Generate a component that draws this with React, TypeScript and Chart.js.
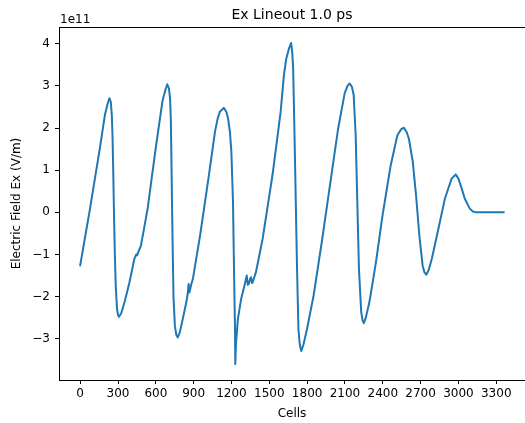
import React, { useEffect, useRef } from "react";
import { Chart, registerables } from "chart.js";

Chart.register(...registerables);

// Ex lineout sampled along the cell index (field in units of 1e11 V/m)
const cells = [
  0, 78, 156, 196, 215, 232, 243, 251, 257, 262, 268, 275, 282, 292, 300, 308, 325, 352, 391, 430, 445, 452, 461,
  482, 535, 599, 652, 675, 691, 704, 713, 719, 723, 727, 733, 740, 751, 762, 774, 790, 808, 842, 852, 860, 866, 873,
  880, 886, 894, 951, 1017, 1069, 1090, 1108, 1139, 1160, 1173, 1188, 1199, 1212, 1220, 1228, 1230, 1236, 1251,
  1277, 1303, 1312, 1321, 1329, 1337, 1346, 1355, 1362, 1368, 1394, 1447, 1525, 1564, 1590, 1616, 1634, 1655, 1673,
  1682, 1689, 1700, 1710, 1720, 1731, 1742, 1754, 1770, 1799, 1851, 1916, 1981, 2046, 2098, 2120, 2137, 2155, 2169,
  2185, 2198, 2211, 2229, 2240, 2250, 2265, 2294, 2346, 2398, 2463, 2516, 2545, 2567, 2590, 2607, 2638, 2664, 2690,
  2716, 2730, 2745, 2765, 2789, 2841, 2893, 2946, 2979, 3000, 3018, 3050, 3089, 3115, 3141, 3360,
];

const exE11 = [
  -1.26, 0.09, 1.52, 2.31, 2.55, 2.71, 2.62, 2.3, 1.75, 1.0, 0.0, -1.0, -1.74, -2.29, -2.43, -2.48, -2.4, -2.13,
  -1.66, -1.1, -1.0, -1.02, -0.94, -0.79, 0.09, 1.52, 2.63, 2.9, 3.04, 2.94, 2.7, 2.2, 1.4, 0.5, -0.7, -2.0, -2.69,
  -2.9, -2.97, -2.85, -2.61, -2.13, -1.95, -1.7, -1.9, -1.82, -1.72, -1.66, -1.58, -0.55, 0.8, 1.91, 2.22, 2.39, 2.48,
  2.38, 2.23, 1.9, 1.44, 0.25, -1.34, -2.77, -3.6, -3.1, -2.53, -2.05, -1.74, -1.62, -1.5, -1.72, -1.7, -1.58, -1.54,
  -1.68, -1.66, -1.42, -0.63, 0.88, 1.78, 2.39, 3.26, 3.64, 3.88, 4.02, 3.8, 3.42, 1.83, 0.25, -1.34, -2.77, -3.15,
  -3.29, -3.15, -2.77, -1.98, -0.71, 0.64, 1.99, 2.83, 3.0, 3.06, 2.98, 2.79, 1.83, 0.25, -1.34, -2.37, -2.57, -2.63,
  -2.5, -2.13, -1.18, -0.07, 1.12, 1.83, 1.97, 2.01, 1.9, 1.75, 1.2, 0.4, -0.55, -1.26, -1.42, -1.48, -1.36, -1.1,
  -0.39, 0.33, 0.8, 0.9, 0.8, 0.64, 0.33, 0.09, 0.02, 0, 0,
];

const xTickStep = 300;
const yTickStep = 1;
const titleText = "Ex Lineout 1.0 ps";
const xLabel = "Cells";
const yLabel = "Electric Field Ex (V/m)";
const offsetLabel = "1e11";

const FONT = "'DejaVu Sans', sans-serif";
const LINE_BLUE = "#1f77b4";

const fmtMinus = (v: number) => (v < 0 ? "\u2212" + Math.abs(v) : String(v));

// Top spine, title and the exponent offset label above the axes
const framePlugin = {
  id: "frame",
  afterDraw(chart: any) {
    const { ctx, chartArea } = chart;
    ctx.save();
    ctx.strokeStyle = "#000";
    ctx.lineWidth = 1;
    ctx.beginPath();
    ctx.moveTo(chartArea.left, Math.round(chartArea.top) + 0.5);
    ctx.lineTo(chartArea.right, Math.round(chartArea.top) + 0.5);
    ctx.stroke();

    ctx.fillStyle = "#000";
    ctx.textBaseline = "alphabetic";
    ctx.font = `14px ${FONT}`;
    ctx.textAlign = "center";
    ctx.fillText(titleText, (chartArea.left + chartArea.right) / 2, 18.5);

    ctx.font = `12px ${FONT}`;
    ctx.textAlign = "left";
    ctx.fillText(offsetLabel, chartArea.left + 1, 22.5);
    ctx.restore();
  },
};

export default function App() {
  const ref = useRef<HTMLCanvasElement | null>(null);

  useEffect(() => {
    document.body.style.margin = "0";
    const canvas = ref.current;
    if (!canvas) return;
    Chart.defaults.font.family = FONT;
    Chart.defaults.color = "#000";

    const chart = new Chart(canvas, {
      type: "line",
      data: {
        datasets: [
          {
            data: cells.map((c, i) => ({ x: c, y: exE11[i] })),
            borderColor: LINE_BLUE,
            borderWidth: 2,
            borderJoinStyle: "round",
            borderCapStyle: "round",
            pointRadius: 0,
            // a tiny tension keeps Chart.js on the full path renderer, so steep
            // drops are stroked point by point instead of being column-merged
            tension: 1e-6,
            fill: false,
          },
        ],
      },
      options: {
        responsive: false,
        animation: false,
        devicePixelRatio: 1,
        layout: { padding: { left: 0, top: 27, right: -6, bottom: 0 } },
        plugins: { legend: { display: false }, tooltip: { enabled: false }, title: { display: false } },
        scales: {
          x: {
            type: "linear",
            min: -168,
            max: 3528,
            afterFit: (s: any) => {
              s.height = 43;
            },
            border: { display: true, color: "#000", width: 1 },
            grid: { drawOnChartArea: false, drawTicks: true, tickLength: 4, color: "#000" },
            ticks: {
              stepSize: xTickStep,
              includeBounds: false,
              autoSkip: false,
              maxRotation: 0,
              padding: 3,
              font: { size: 12 },
              color: "#000",
              callback: (v: any) => fmtMinus(Number(v)),
            },
            title: { display: true, text: xLabel, font: { size: 12 }, color: "#000", padding: { top: 0, bottom: 2 } },
          },
          y: {
            type: "linear",
            min: -3.98,
            max: 4.4,
            afterFit: (s: any) => {
              s.width = 59;
            },
            border: { display: true, color: "#000", width: 1 },
            grid: { drawOnChartArea: false, drawTicks: true, tickLength: 4, color: "#000" },
            ticks: {
              stepSize: yTickStep,
              includeBounds: false,
              padding: 5,
              font: { size: 12 },
              color: "#000",
              callback: (v: any) => fmtMinus(Number(v)),
            },
            title: { display: true, text: yLabel, font: { size: 12 }, color: "#000", padding: { top: 10, bottom: 0 } },
          },
        },
      },
      plugins: [framePlugin],
    });
    return () => chart.destroy();
  }, []);

  return (
    <div style={{ width: 525, height: 423 }}>
      <canvas ref={ref} width={525} height={423} />
    </div>
  );
}
